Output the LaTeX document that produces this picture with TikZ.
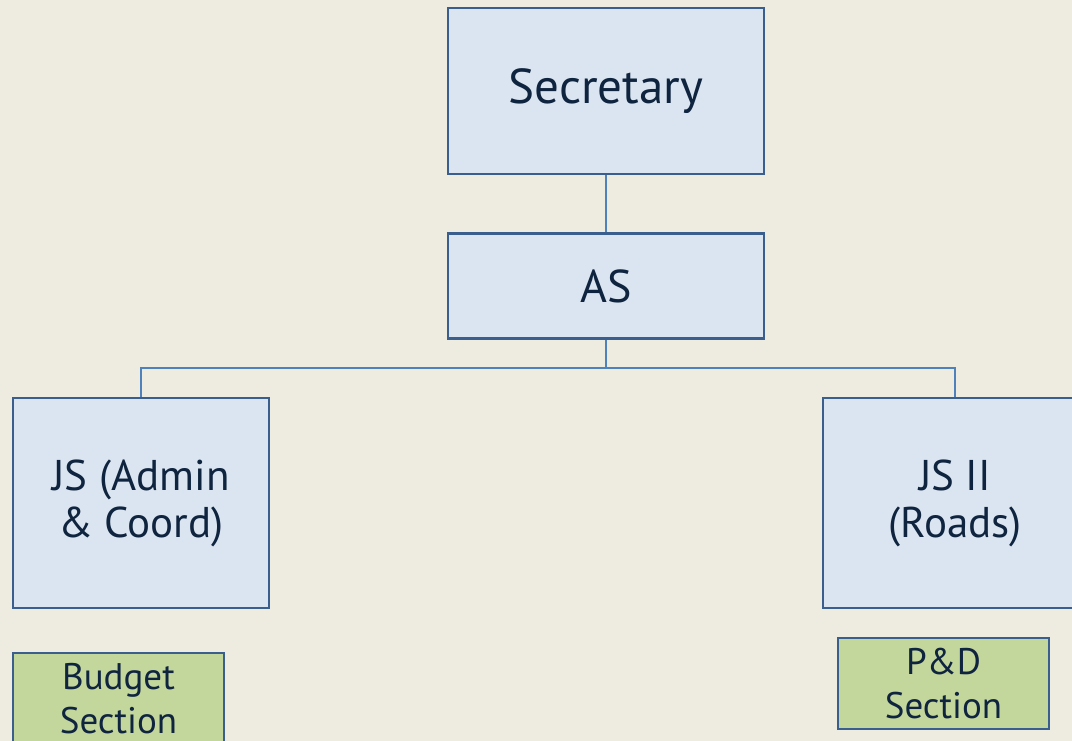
\documentclass[tikz,border=0pt]{standalone}
\usepackage{fontspec}
\setmainfont{PT Sans}
\usetikzlibrary{positioning}

\definecolor{paper}{HTML}{EEEBE0}
\definecolor{boxblue}{HTML}{DBE5F1}
\definecolor{boxline}{HTML}{3A5F8E}
\definecolor{linkblue}{HTML}{4F81BD}
\definecolor{sectgreen}{HTML}{C3D69B}
\definecolor{navy}{HTML}{0F243E}

\begin{document}
\begin{tikzpicture}[
        x=1pt, y=-1pt,
        post/.style={
            rectangle,
            draw=boxline,
            line width=2.4pt,
            fill=boxblue,
            align=center,
            text=navy,
            inner sep=0pt
        },
        section/.style={
            post,
            fill=sectgreen,
            minimum width=211pt,
            minimum height=91pt,
            font=\fontsize{37}{44}\selectfont
        },
        link/.style={
            draw=linkblue,
            line width=2.2pt
        }
    ]

    % Background and page size
    \fill[paper] (0,0) rectangle (1072,741);
    \useasboundingbox (0,0) rectangle (1072,741);

    % Top of the chart
    \node[post, minimum width=316pt, minimum height=166pt,
        font=\fontsize{49}{56}\selectfont] (secretary) at (606,91) {Secretary};
    \node[post, minimum width=316pt, minimum height=105pt,
        font=\fontsize{46}{54}\selectfont, below=57pt of secretary] (as) {AS};

    % Joint secretaries
    \node[post, minimum width=256pt, minimum height=210pt,
        font=\fontsize{43}{47}\selectfont] (jsadmin) at (141,503) {JS (Admin\\ \& Coord)};
    \node[post, minimum width=264pt, minimum height=210pt,
        font=\fontsize{43}{47}\selectfont] (jsroads) at (955,503) {JS II\\ (Roads)};

    % Sections
    \node[section] (budget) at (118.5,698.5) {Budget\\ Section};
    \node[section] (pd) at (943.5,683.5) {P\&D\\ Section};

    % Links
    \coordinate (fork) at (606,368);
    \draw[link] (secretary) -- (as);
    \draw[link] (as) -- (fork);
    \draw[link] (jsadmin.north) |- (fork) -| (jsroads.north);

\end{tikzpicture}
\end{document}
